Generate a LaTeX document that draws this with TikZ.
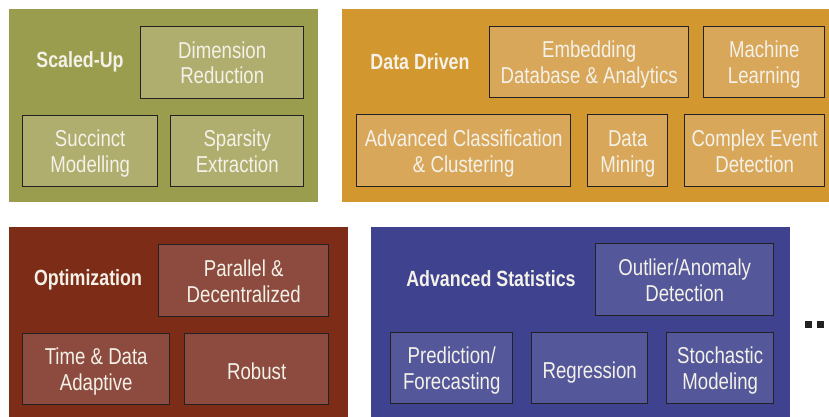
\documentclass[tikz,border=0pt]{standalone}
\usepackage{fontspec}
\setmainfont{Liberation Sans}[FakeStretch=0.81]
\definecolor{olivebg}{HTML}{9B9D4E}
\definecolor{olivebox}{HTML}{B0AE6E}
\definecolor{orangebg}{HTML}{D3972F}
\definecolor{orangebox}{HTML}{D9A75A}
\definecolor{redbg}{HTML}{7D2C17}
\definecolor{redbox}{HTML}{8C4B3E}
\definecolor{bluebg}{HTML}{3F438F}
\definecolor{bluebox}{HTML}{54579A}
\definecolor{edgecol}{HTML}{222222}
\definecolor{txt}{HTML}{F3F1E8}
\begin{document}
\begin{tikzpicture}[x=1pt,y=-1pt,
  panel/.style={draw=none,inner sep=0pt,anchor=north west},
  itembox/.style={draw=edgecol,line width=1.4pt,inner sep=0pt,anchor=north west,
    align=center,text=txt,font=\fontsize{23}{25.6}\selectfont},
  twoline/.style={text height=42.6pt,text depth=0pt},
  oneline/.style={text height=19.6pt,text depth=0pt},
  ttl/.style={text=txt,font=\bfseries\fontsize{22}{25}\selectfont,inner sep=0pt}]
\useasboundingbox[fill=white] (0,0) rectangle (829,417);
% panels
\node[panel,fill=olivebg,minimum width=309pt,minimum height=193pt] (p1) at (9,9) {};
\node[panel,fill=orangebg,minimum width=487pt,minimum height=193pt] (p2) at (342,9) {};
\node[panel,fill=redbg,minimum width=339pt,minimum height=190pt] (p3) at (9,227) {};
\node[panel,fill=bluebg,minimum width=419pt,minimum height=190pt] (p4) at (371,227) {};
% titles
\node[ttl] (t1) at (80,62) {Scaled-Up};
\node[ttl] (t2) at (420,62) {Data Driven};
\node[ttl] (t3) at (88,280) {Optimization};
\node[ttl] (t4) at (491,279) {Advanced Statistics};
% Scaled-Up
\node[itembox,twoline,fill=olivebox,minimum width=163pt,minimum height=72pt] (dim) at (140,26) {Dimension\\Reduction};
\node[itembox,twoline,fill=olivebox,minimum width=135pt,minimum height=71pt] (suc) at (22,115) {Succinct\\Modelling};
\node[itembox,twoline,fill=olivebox,minimum width=133pt,minimum height=71pt] (spa) at (170,115) {Sparsity\\Extraction};
% Data Driven
\node[itembox,twoline,fill=orangebox,minimum width=199pt,minimum height=71pt] (emb) at (489,26) {Embedding\\Database \& Analytics};
\node[itembox,twoline,fill=orangebox,minimum width=121pt,minimum height=71pt] (ml) at (703,26) {Machine\\Learning};
\node[itembox,twoline,fill=orangebox,minimum width=214pt,minimum height=72pt] (acc) at (356,114) {Advanced Classification\\\& Clustering};
\node[itembox,twoline,fill=orangebox,minimum width=80pt,minimum height=72pt] (dm) at (587,114) {Data\\Mining};
\node[itembox,twoline,fill=orangebox,minimum width=140pt,minimum height=72pt] (ced) at (684,114) {Complex Event\\Detection};
% Optimization
\node[itembox,twoline,fill=redbox,minimum width=170pt,minimum height=72pt] (par) at (158,244) {Parallel \&\\Decentralized};
\node[itembox,twoline,fill=redbox,minimum width=147pt,minimum height=71pt] (tda) at (22,333) {Time \& Data\\Adaptive};
\node[itembox,oneline,fill=redbox,minimum width=144pt,minimum height=71pt] (rob) at (184,333) {Robust};
% Advanced Statistics
\node[itembox,twoline,fill=bluebox,minimum width=178pt,minimum height=72pt] (out) at (595,243) {Outlier/Anomaly\\Detection};
\node[itembox,twoline,fill=bluebox,minimum width=122pt,minimum height=71pt] (pre) at (390,332) {Prediction/\\Forecasting};
\node[itembox,oneline,fill=bluebox,minimum width=116pt,minimum height=71pt] (reg) at (531,332) {Regression};
\node[itembox,twoline,fill=bluebox,minimum width=107pt,minimum height=71pt] (sto) at (666,332) {Stochastic\\Modeling};
% dots
\node[fill=edgecol,inner sep=0pt,minimum size=7pt,anchor=north west] (d1) at (805,321) {};
\node[fill=edgecol,inner sep=0pt,minimum size=7pt,anchor=north west] (d2) at (817,321) {};
\end{tikzpicture}
\end{document}
